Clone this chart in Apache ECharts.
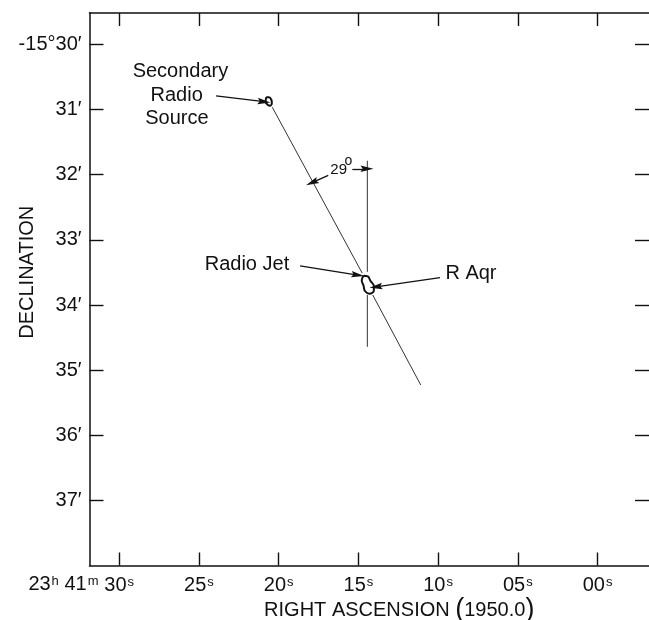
<!DOCTYPE html>
<html>
<head>
<meta charset="utf-8">
<style>html,body{margin:0;padding:0;background:#fff}#c{width:649px;height:620px}</style>
<script src="https://cdn.jsdelivr.net/npm/echarts@6/dist/echarts.min.js"></script>
</head>
<body>
<div id="c"></div>
<script>
// Right ascension in seconds of time (23h 41m + s), declination in arcminutes below -15 deg.
const raTicks = [30, 25, 20, 15, 10, 5, 0];
const decTicks = [30, 31, 32, 33, 34, 35, 36, 37];
const raRange = [-3.226, 31.865];
const decRange = [29.519, 37.995];
const xTitle = '{t|RIGHT ASCENSION }{p|(}{t|1950.0}{p|)}';
const yTitle = 'DECLINATION';

const jetUpper = [[20.40, 30.965], [14.76, 33.51]];
const jetLower = [[14.10, 33.845], [11.09, 35.226]];
const refUpper = [[14.44, 31.785], [14.44, 33.49]];
const refLower = [[14.44, 33.845], [14.44, 34.64]];
const secondarySource = [[20.78, 30.81], [20.61, 30.81], [20.46, 30.85], [20.43, 30.90], [20.53, 30.94], [20.68, 30.93], [20.82, 30.88], [20.78, 30.81]];
const rAqr = [[14.68, 33.551], [14.41, 33.561], [14.24, 33.63], [14.03, 33.707], [14.03, 33.776], [14.30, 33.827], [14.59, 33.784], [14.68, 33.70], [14.79, 33.623], [14.68, 33.551]];

const arrows = [
  [[23.93, 30.79], [20.92, 30.88]],
  [[18.66, 33.40], [15.04, 33.54]],
  [[9.88, 33.58], [13.90, 33.72]],
  [[16.89, 32.01], [17.91, 32.12]],
  [[15.38, 31.91], [14.46, 31.91]]
];
const notes = [
  [26.16, 30.42, 'Secondary', 20],
  [26.40, 30.78, 'Radio', 20],
  [26.38, 31.13, 'Source', 20],
  [21.99, 33.37, 'Radio Jet', 20],
  [7.94, 33.52, 'R Aqr', 20],
  [16.24, 31.92, '29', 15],
  [15.62, 31.79, 'o', 14],
  [33.50, 38.29, '{a|23}{s|h} {a|41}{s|m}', 20]
];

const ink = '#111';
const font = '"Liberation Sans", Arial, sans-serif';
const tickLine = { lineStyle: { color: ink, width: 1.4 } };
const axisBase = { axisLine: { show: true, onZero: false, lineStyle: { color: ink, width: 1.5 } }, splitLine: { show: false } };
const rich = { a: { fontSize: 20, fontFamily: font, color: ink }, s: { fontSize: 13, fontFamily: font, color: ink, verticalAlign: 'top', padding: [0, 0, 6, 1] } };

function xAxis(position, labels) {
  return Object.assign({}, axisBase, {
    type: 'value', position, inverse: true, min: raRange[0], max: raRange[1],
    axisTick: Object.assign({ inside: true, length: 13, customValues: raTicks }, tickLine),
    axisLabel: labels ? { show: true, customValues: raTicks, margin: 10, hideOverlap: false, showMinLabel: true, showMaxLabel: true,
      formatter: v => '{a|' + String(v).padStart(2, '0') + '}{s|s}', rich } : { show: false }
  });
}
function yAxis(position, labels, lineShown) {
  return Object.assign({}, axisBase, {
    type: 'value', position, inverse: true, min: decRange[0], max: decRange[1],
    axisLine: { show: lineShown, onZero: false, lineStyle: { color: ink, width: 1.5 } },
    axisTick: Object.assign({ inside: true, length: 14, customValues: decTicks }, tickLine),
    axisLabel: labels ? { show: true, customValues: decTicks, margin: 8, color: ink, fontSize: 20, fontFamily: font,
      formatter: v => (v === 30 ? '-15°30′' : v + '′') } : { show: false }
  });
}
const thin = d => ({ type: 'line', data: d, symbol: 'none', silent: true, animation: false, clip: false, lineStyle: { color: '#333', width: 1 } });
const blob = d => ({ type: 'line', data: d, symbol: 'none', smooth: 0.4, silent: true, animation: false, clip: false, lineStyle: { color: '#111', width: 2 } });

const x0 = xAxis('bottom', true);
x0.name = xTitle; x0.nameLocation = 'middle'; x0.nameGap = 31; x0.nameMoveOverlap = false;
x0.nameTextStyle = { color: ink, fontSize: 20, fontFamily: font, padding: [0, 0, 0, 60], rich: { t: { fontSize: 20, fontFamily: font, color: ink }, p: { fontSize: 27, fontFamily: font, color: ink } } };
const y0 = yAxis('left', true, true);
y0.name = yTitle; y0.nameLocation = 'middle'; y0.nameGap = 52; y0.nameRotate = 90; y0.nameMoveOverlap = false;
y0.nameTextStyle = { color: ink, fontSize: 20, fontFamily: font, padding: [0, 0, 0, 34] };

const chart = echarts.init(document.getElementById('c'), null, { renderer: 'canvas', width: 649, height: 620 });
chart.setOption({
  backgroundColor: '#fff',
  animation: false,
  grid: { left: 89.5, right: 0, top: 13, bottom: 54.5, containLabel: false, outerBoundsMode: 'none' },
  xAxis: [x0, xAxis('top', false)],
  yAxis: [y0, yAxis('right', false, false)],
  series: [
    thin(jetUpper), thin(jetLower), thin(refUpper), thin(refLower),
    blob(secondarySource), blob(rAqr),
    {
      type: 'line', data: [], silent: true, animation: false,
      markLine: {
        silent: true, animation: false, symbol: ['none', 'path://M0 12L3 12L6 0L9 12L12 12L9 12L6 10L3 12Z'], symbolSize: 13,
        label: { show: false }, lineStyle: { color: ink, width: 1.3, type: 'solid' },
        data: arrows.map(a => [{ coord: a[0] }, { coord: a[1] }])
      }
    },
    {
      type: 'scatter', clip: false, silent: true, animation: false, symbolSize: 0, itemStyle: { opacity: 1 },
      data: notes.map(n => ({ value: [n[0], n[1]], name: n[2],
        label: { show: true, position: 'inside', align: 'center', verticalAlign: 'middle', formatter: n[2], color: ink, fontSize: n[3], fontFamily: font, rich } }))
    }
  ]
});
</script>
</body>
</html>
